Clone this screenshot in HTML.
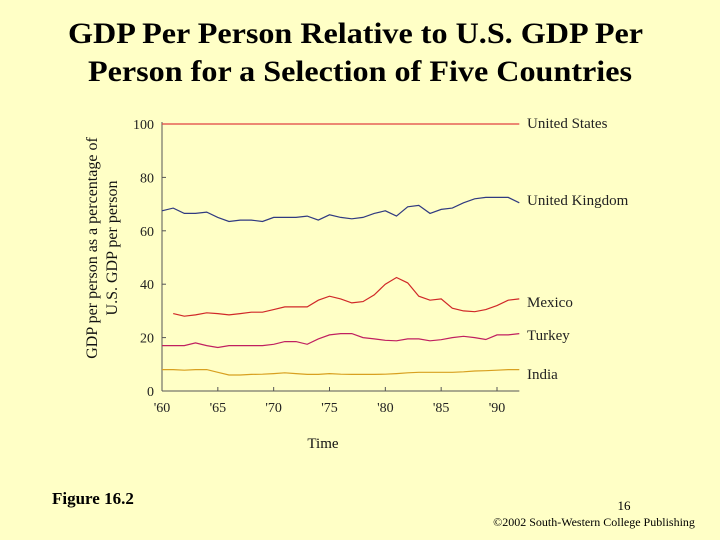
<!DOCTYPE html>
<html><head><meta charset="utf-8"><style>
body{margin:0;background:#ffffc6;}
#wrap{position:relative;width:720px;height:540px;background:#ffffc6;overflow:hidden;font-family:"Liberation Serif",serif;}
svg{position:absolute;left:0;top:0;}
</style></head><body>
<div id="wrap">
<svg id="chart" width="720" height="540">
<text x="68" y="43" font-size="30" font-weight="bold" fill="#000" textLength="575" lengthAdjust="spacingAndGlyphs">GDP Per Person Relative to U.S. GDP Per</text>
<text x="88" y="81" font-size="30" font-weight="bold" fill="#000" textLength="544" lengthAdjust="spacingAndGlyphs">Person for a Selection of Five Countries</text>
<g transform="translate(97,248) rotate(-90)">
<text x="0" y="0" text-anchor="middle" font-size="16" fill="#111">GDP per person as a percentage of</text>
<text x="0" y="20" text-anchor="middle" font-size="16" fill="#111">U.S. GDP per person</text>
</g>
<text x="323" y="448" text-anchor="middle" font-size="15" fill="#111">Time</text>
<text x="52" y="504" font-size="17" font-weight="bold" fill="#000">Figure 16.2</text>
<text x="624" y="510" text-anchor="middle" font-size="13" fill="#000">16</text>
<text x="594" y="526" text-anchor="middle" font-size="12" fill="#000">©2002 South-Western College Publishing</text>
<g id="axes"></g><g id="lines"></g><g id="labels"></g>
</svg>
</div>
<script>
const years = [];for(let y=1960;y<=1992;y++)years.push(y);
const yTicks = [0,20,40,60,80,100];
const xTicks = [1960,1965,1970,1975,1980,1985,1990];
const usVals = [100,100,100,100,100,100,100,100,100,100,100,100,100,100,100,100,100,100,100,100,100,100,100,100,100,100,100,100,100,100,100,100,100];
const ukVals = [67.5,68.5,66.5,66.5,67,65,63.5,64,64,63.5,65,65,65,65.5,64,66,65,64.5,65,66.5,67.5,65.5,69,69.5,66.5,68,68.5,70.5,72,72.5,72.5,72.5,70.5];
const mexicoVals = [null,29,28,28.5,29.3,29,28.5,29,29.5,29.5,30.5,31.5,31.5,31.5,34,35.5,34.5,33,33.5,36,40,42.5,40.5,35.5,34,34.5,31,30,29.7,30.5,32,34,34.5];
const turkeyVals = [17,17,17,18,17,16.3,17,17,17,17,17.5,18.5,18.5,17.5,19.5,21,21.5,21.5,20,19.5,19,18.8,19.5,19.5,18.8,19.2,20,20.5,20,19.3,21,21,21.5];
const indiaVals = [8,8,7.8,8,8,7,6,6,6.2,6.3,6.5,6.8,6.5,6.2,6.2,6.5,6.3,6.2,6.2,6.2,6.3,6.5,6.8,7,7,7,7,7.2,7.5,7.6,7.8,8,8];
const seriesNames = ["United States","United Kingdom","Mexico","Turkey","India"];
const seriesVals = [usVals,ukVals,mexicoVals,turkeyVals,indiaVals];
const seriesColors = ["#e04040","#303a80","#d02828","#c02060","#d8a020"];
const labelY = [123,200,302,335,374];
const NS="http://www.w3.org/2000/svg";
const x0=162,x1=497,y0=391,y1=124;
function xs(yr){return x0+(yr-1960)*(x1-x0)/30;}
function ys(v){return y0-v*(y0-y1)/100;}
function mk(tag,attrs,parent){const e=document.createElementNS(NS,tag);for(const k in attrs)e.setAttribute(k,attrs[k]);parent.appendChild(e);return e;}
const axes=document.getElementById('axes'),lines=document.getElementById('lines'),labels=document.getElementById('labels');
let a=mk('line',{x1:x0,y1:y1-2,x2:x0,y2:y0,stroke:'#555','stroke-width':1},axes);


a=mk('line',{x1:x0,y1:y0,x2:xs(1992),y2:y0,stroke:'#555','stroke-width':1},axes);


yTicks.forEach(v=>{
 const t=mk('line',{x1:x0,y1:ys(v),x2:x0+4,y2:ys(v),stroke:'#555'},axes);
 
 
 const l=mk('text',{x:x0-8,y:ys(v)+5,'text-anchor':'end','font-size':14,fill:'#222'},axes);l.textContent=v;
 
 
});
xTicks.forEach(v=>{
 const t=mk('line',{x1:xs(v),y1:y0,x2:xs(v),y2:y0-4,stroke:'#555'},axes);
 
 
 const l=mk('text',{x:xs(v),y:y0+21,'text-anchor':'middle','font-size':14,fill:'#222'},axes);l.textContent="'"+String(v).slice(2);
 
 
});
seriesVals.forEach((vals,i)=>{
 let d='';let pen=false;
 vals.forEach((v,j)=>{if(v==null){pen=false;return;}d+=(pen?'L':'M')+xs(years[j]).toFixed(1)+' '+ys(v).toFixed(1);pen=true;});
 const p=mk('path',{d:d,fill:'none',stroke:seriesColors[i],'stroke-width':1.2},lines);
 
 
 const l=mk('text',{x:527,y:labelY[i]+5,'font-size':15,fill:'#222'},labels);l.textContent=seriesNames[i];
 
 
});
</script>
</body></html>
